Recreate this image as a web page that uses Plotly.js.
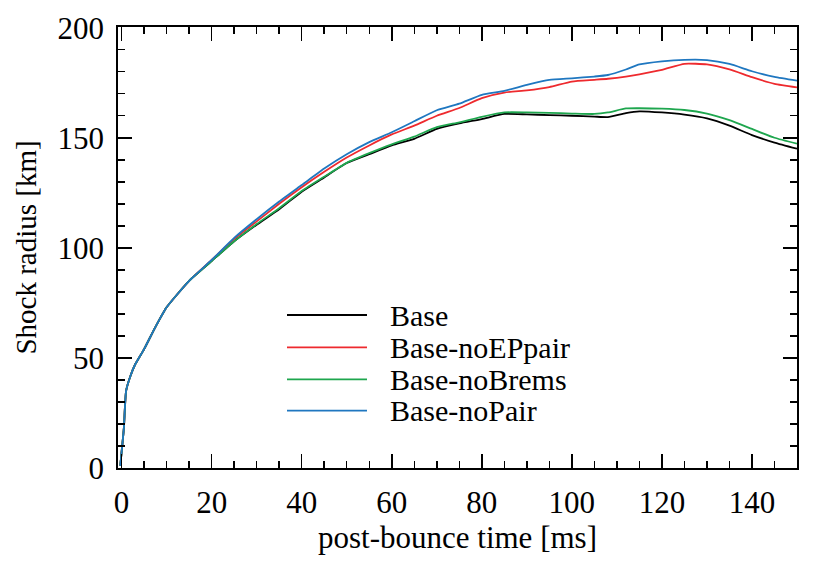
<!DOCTYPE html>
<html>
<head>
<meta charset="utf-8">
<script src="https://cdn.plot.ly/plotly-3.0.1.min.js"></script>
<style>html,body{margin:0;padding:0;background:#fff;}#chart{width:830px;height:575px;}</style>
</head>
<body>
<div id="chart"></div>
<script>
// post-bounce time [ms]
const time = [-0.3, 0.5, 1, 2, 3, 5, 7.5, 10, 15, 20, 25, 30, 35, 40, 45, 50, 55, 60, 65, 70, 75, 80, 85, 90, 95, 100, 105, 108, 112, 115, 120, 125, 130, 135, 140, 145, 150];
// Shock radius [km]
const base      = [1, 18, 35, 42, 47, 54, 64, 73, 85, 94, 103, 110.5, 117.5, 125.5, 132, 138.5, 142.5, 146.5, 149.5, 154, 156.5, 158.5, 160.8, 160.6, 160.3, 160, 159.6, 159.4, 161.2, 162, 161.5, 160.5, 158.8, 155.5, 151.2, 147.8, 145];
const noEPpair  = [1, 18, 35, 42, 47, 54, 64, 73, 85, 94.5, 104, 112, 120, 127.5, 134.5, 141, 146.5, 151.5, 155.5, 160, 163.5, 168, 170.5, 171.5, 173, 175.5, 176.3, 176.8, 177.8, 178.8, 180.8, 183.6, 183.3, 181, 177.5, 174.5, 172.9];
const noBrems   = [1, 18, 35, 42, 47, 54, 64, 73, 85, 94, 103, 110.8, 118, 125.8, 132.3, 138.6, 143, 147, 150.5, 154.8, 157, 159.5, 161.5, 161.5, 161.3, 161, 160.8, 161.5, 163.3, 163.4, 163.2, 162.6, 161, 158, 154, 150, 147.3];
const noPair    = [1, 18, 35, 42, 47, 54, 64, 73, 85, 94.5, 104.5, 113, 121, 128.5, 136, 142.5, 148, 152.5, 157.5, 162.5, 165.5, 169.5, 171.3, 174, 176.3, 177, 177.8, 178.5, 181, 183.3, 184.7, 185.4, 185.3, 183.5, 180.2, 177.6, 175.9];

const names  = ["Base", "Base-noEPpair", "Base-noBrems", "Base-noPair"];
const colors = ["#000000", "#ee2a2e", "#1ea64e", "#1f77c0"];
const series = [base, noEPpair, noBrems, noPair];

const FONT = '"Liberation Serif", "Times New Roman", serif';

const traces = series.map((ys, i) => ({
  x: time, y: ys, type: "scatter", mode: "lines", name: names[i],
  line: {color: colors[i], width: 1.8, shape: "spline", smoothing: 0.5},
  showlegend: false
}));

// manual legend (long sample lines as in the reference)
const legRows = [0.3469, 0.2737, 0.2011, 0.1299];
const shapes = legRows.map((yy, i) => ({
  type: "line", xref: "paper", yref: "paper",
  x0: 0.2489, x1: 0.3667, y0: yy, y1: yy,
  line: {color: colors[i], width: 1.8}
}));
const annotations = legRows.map((yy, i) => ({
  xref: "paper", yref: "paper", x: 0.3976, y: yy,
  xanchor: "left", yanchor: "middle", showarrow: false,
  text: names[i], font: {family: FONT, size: 30, color: "#000"}
}));

const axisCommon = {
  showgrid: false, zeroline: false, showline: true, linecolor: "#000", linewidth: 1.7,
  mirror: "allticks", ticks: "inside", ticklen: 14, tickwidth: 1.5, tickcolor: "#000",
  tickfont: {family: FONT, size: 31, color: "#000"}
};

const layout = {
  width: 830, height: 575,
  margin: {l: 118, r: 33, t: 27, b: 107},
  paper_bgcolor: "#fff", plot_bgcolor: "#fff",
  font: {family: FONT, color: "#000"},
  xaxis: Object.assign({}, axisCommon, {
    range: [-0.8, 150], tickmode: "linear", tick0: 0, dtick: 20,
    ticklabelstandoff: 6,
    minor: {dtick: 5, ticks: "inside", ticklen: 7, tickwidth: 1.5, tickcolor: "#000"},
    title: {text: "post-bounce time [ms]", font: {family: FONT, size: 31, color: "#000"}, standoff: 6}
  }),
  yaxis: Object.assign({}, axisCommon, {
    range: [0, 200.3], tickmode: "linear", tick0: 0, dtick: 50,
    ticklabelstandoff: 6,
    minor: {dtick: 10, ticks: "inside", ticklen: 7, tickwidth: 1.5, tickcolor: "#000"},
    title: {text: "Shock radius [km]", font: {family: FONT, size: 29, color: "#000"}, standoff: 12}
  }),
  shapes: shapes,
  annotations: annotations
};

Plotly.newPlot("chart", traces, layout, {displayModeBar: false, staticPlot: true});
</script>
</body>
</html>
